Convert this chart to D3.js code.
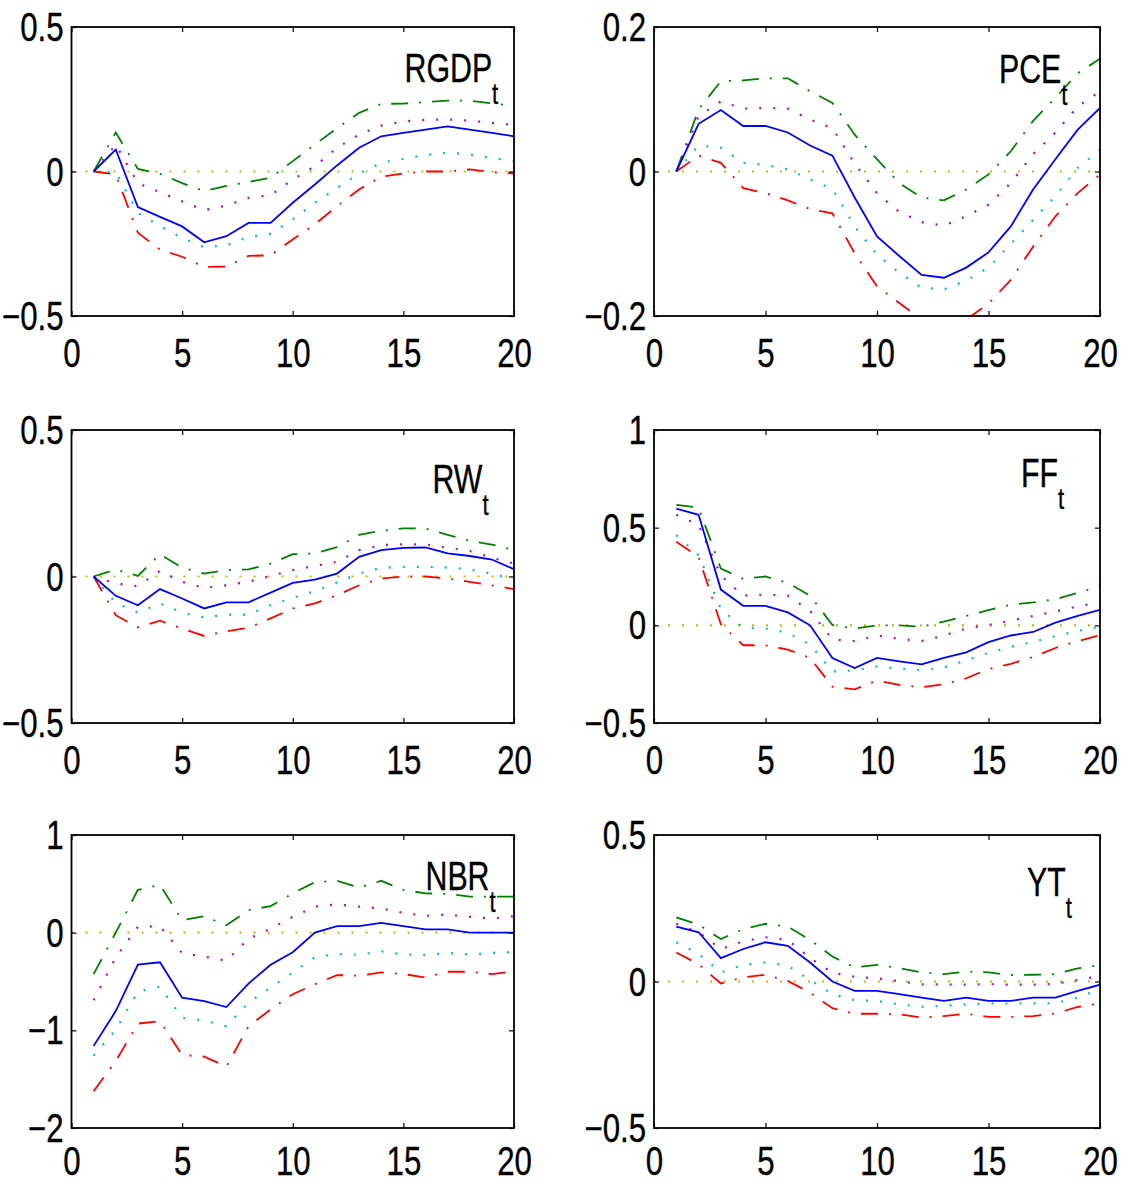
<!DOCTYPE html>
<html>
<head>
<meta charset="utf-8">
<script src="https://cdn.jsdelivr.net/npm/d3@7/dist/d3.min.js"></script>
<style>
body { margin: 0; background: #fff; }
text { font-family: "Liberation Sans", Arial, Helvetica, sans-serif; fill: #000; stroke: #000; stroke-width: 0.35px; }
</style>
</head>
<body>
<div id="chart"></div>
<script>
var svgWidth = 1122;
var svgHeight = 1183;

// horizons and x ticks
var horizon = [1, 2, 3, 4, 5, 6, 7, 8, 9, 10, 11, 12, 13, 14, 15, 16, 17, 18, 19, 20];
var xTicks = [0, 5, 10, 15, 20];

// RGDP
var rgdpMid  = [0, 0.076, -0.123, -0.157, -0.19, -0.245, -0.224, -0.178, -0.178, -0.108, -0.045, 0.021, 0.082, 0.122, 0.134, 0.145, 0.156, 0.145, 0.134, 0.122];
var rgdpHi90 = [0, 0.135, 0.009, -0.008, -0.04, -0.068, -0.05, -0.036, -0.022, 0.036, 0.093, 0.15, 0.203, 0.234, 0.235, 0.24, 0.245, 0.245, 0.236, 0.226];
var rgdpHi68 = [0, 0.093, -0.04, -0.072, -0.103, -0.134, -0.118, -0.091, -0.082, -0.028, 0.018, 0.082, 0.128, 0.159, 0.173, 0.179, 0.18, 0.176, 0.168, 0.161];
var rgdpLo68 = [0, -0.002, -0.143, -0.189, -0.23, -0.262, -0.256, -0.226, -0.215, -0.166, -0.108, -0.057, -0.007, 0.03, 0.044, 0.057, 0.065, 0.059, 0.047, 0.036];
var rgdpLo90 = [0, -0.01, -0.212, -0.27, -0.295, -0.33, -0.329, -0.292, -0.29, -0.235, -0.183, -0.12, -0.062, -0.018, -0.007, 0, 0, 0.007, -0.002, -0.007];

// PCE
var pceMid  = [0, 0.066, 0.085, 0.063, 0.063, 0.054, 0.036, 0.022, -0.036, -0.09, -0.117, -0.143, -0.147, -0.133, -0.112, -0.076, -0.025, 0.017, 0.058, 0.088];
var pceHi90 = [0, 0.086, 0.125, 0.126, 0.129, 0.129, 0.111, 0.095, 0.051, 0.017, -0.016, -0.036, -0.04, -0.025, -0.004, 0.028, 0.07, 0.102, 0.136, 0.156];
var pceHi68 = [0, 0.077, 0.097, 0.087, 0.088, 0.087, 0.072, 0.06, 0.011, -0.03, -0.056, -0.07, -0.075, -0.062, -0.046, -0.016, 0.024, 0.054, 0.09, 0.111];
var pceLo68 = [0, 0.036, 0.033, 0.012, 0.009, 0.003, -0.011, -0.024, -0.076, -0.115, -0.14, -0.161, -0.163, -0.151, -0.133, -0.1, -0.067, -0.034, 0.005, 0.03];
var pceLo90 = [0, 0.022, 0.012, -0.023, -0.03, -0.04, -0.052, -0.058, -0.113, -0.159, -0.182, -0.205, -0.217, -0.205, -0.183, -0.15, -0.104, -0.062, -0.03, -0.004];

// RW
var rwMid  = [0, -0.066, -0.098, -0.043, -0.075, -0.109, -0.088, -0.088, -0.055, -0.022, -0.011, 0.01, 0.067, 0.09, 0.098, 0.099, 0.079, 0.07, 0.058, 0.025];
var rwHi90 = [0, 0.024, 0.002, 0.076, 0.03, 0.01, 0.022, 0.024, 0.044, 0.076, 0.079, 0.1, 0.142, 0.156, 0.164, 0.164, 0.142, 0.122, 0.109, 0.09];
var rwHi68 = [0, -0.024, -0.033, 0.019, -0.018, -0.039, -0.03, -0.018, 0.002, 0.022, 0.036, 0.05, 0.09, 0.107, 0.11, 0.109, 0.098, 0.087, 0.064, 0.044];
var rwLo68 = [0, -0.09, -0.123, -0.092, -0.123, -0.14, -0.13, -0.13, -0.098, -0.073, -0.05, -0.02, 0.01, 0.03, 0.033, 0.033, 0.031, 0.024, 0.01, -0.01];
var rwLo90 = [0, -0.132, -0.174, -0.151, -0.178, -0.203, -0.187, -0.175, -0.143, -0.109, -0.092, -0.064, -0.03, -0.007, 0, 0, -0.007, -0.018, -0.03, -0.043];

// FF
var ffMid  = [0.597, 0.566, 0.183, 0.1, 0.1, 0.066, 0, -0.167, -0.219, -0.167, -0.184, -0.2, -0.167, -0.138, -0.086, -0.052, -0.034, 0.014, 0.048, 0.079];
var ffHi90 = [0.617, 0.603, 0.29, 0.238, 0.25, 0.217, 0.152, 0.002, -0.017, 0, 0, -0.007, 0.019, 0.048, 0.078, 0.105, 0.117, 0.134, 0.166, 0.2];
var ffHi68 = [0.566, 0.514, 0.255, 0.152, 0.157, 0.152, 0.074, -0.072, -0.081, -0.052, -0.069, -0.081, -0.052, -0.016, 0.002, 0.024, 0.048, 0.071, 0.097, 0.117];
var ffLo68 = [0.462, 0.359, 0.083, -0.012, -0.016, -0.038, -0.098, -0.236, -0.231, -0.21, -0.222, -0.229, -0.216, -0.179, -0.141, -0.11, -0.084, -0.055, -0.029, -0.007];
var ffLo90 = [0.428, 0.35, 0.005, -0.102, -0.102, -0.124, -0.167, -0.314, -0.328, -0.283, -0.305, -0.317, -0.302, -0.271, -0.224, -0.197, -0.162, -0.116, -0.081, -0.05];

// NBR
var nbrMid  = [-1.159, -0.803, -0.328, -0.303, -0.666, -0.7, -0.762, -0.521, -0.328, -0.2, 0, 0.066, 0.066, 0.1, 0.066, 0.034, 0.034, 0, 0, 0];
var nbrHi90 = [-0.424, 0, 0.438, 0.49, 0.128, 0.169, 0.076, 0.231, 0.272, 0.403, 0.517, 0.531, 0.462, 0.531, 0.438, 0.403, 0.397, 0.369, 0.369, 0.369];
var nbrHi68 = [-0.693, -0.252, 0.059, 0.066, -0.21, -0.245, -0.286, -0.062, 0.041, 0.162, 0.266, 0.29, 0.266, 0.248, 0.203, 0.172, 0.186, 0.162, 0.145, 0.169];
var nbrLo68 = [-1.259, -0.993, -0.603, -0.555, -0.872, -0.9, -0.959, -0.717, -0.562, -0.407, -0.252, -0.217, -0.228, -0.19, -0.224, -0.228, -0.207, -0.224, -0.207, -0.2];
var nbrLo90 = [-1.624, -1.314, -0.931, -0.907, -1.252, -1.269, -1.372, -0.959, -0.786, -0.631, -0.528, -0.434, -0.441, -0.407, -0.424, -0.459, -0.4, -0.4, -0.424, -0.397];

// YT
var ytMid  = [0.187, 0.168, 0.08, 0.111, 0.134, 0.122, 0.065, 0, -0.032, -0.032, -0.043, -0.055, -0.066, -0.055, -0.066, -0.066, -0.055, -0.055, -0.032, -0.011];
var ytHi90 = [0.219, 0.194, 0.145, 0.179, 0.197, 0.187, 0.142, 0.085, 0.048, 0.057, 0.046, 0.031, 0.025, 0.034, 0.031, 0.022, 0.023, 0.025, 0.045, 0.056];
var ytHi68 = [0.197, 0.168, 0.111, 0.137, 0.151, 0.142, 0.08, 0.03, 0.016, 0.011, 0.001, -0.01, -0.01, -0.011, -0.009, -0.011, -0.011, -0.008, 0.005, 0.019];
var ytLo68 = [0.134, 0.094, 0.031, 0.057, 0.065, 0.054, 0.005, -0.043, -0.064, -0.066, -0.078, -0.086, -0.083, -0.078, -0.075, -0.075, -0.075, -0.074, -0.055, -0.026];
var ytLo90 = [0.099, 0.059, -0.007, 0.014, 0.023, 0.002, -0.038, -0.091, -0.11, -0.11, -0.112, -0.123, -0.118, -0.11, -0.121, -0.121, -0.118, -0.109, -0.087, -0.075];

// panel titles and y axes
var titles = ["RGDP", "PCE", "RW", "FF", "NBR", "YT"];
var yDomains = [[-0.5, 0.5], [-0.2, 0.2], [-0.5, 0.5], [-0.5, 1], [-2, 1], [-0.5, 0.5]];
var yTicks = [[-0.5, 0, 0.5], [-0.2, 0, 0.2], [-0.5, 0, 0.5], [-0.5, 0, 0.5, 1], [-2, -1, 0, 1], [-0.5, 0, 0.5]];

// layout (pixels)
var colLeft = [71.5, 654];
var colWidth = [442.5, 446];
var rowTop = [27, 430, 835];
var rowHeight = [289, 293, 293];
var xLabelPad = [23, 23, 19];
var titlePos = [[333, 55], [345, 56], [361, 63], [367, 57], [354, 55], [373, 61]];

var panels = [
    {mid: rgdpMid, hi90: rgdpHi90, hi68: rgdpHi68, lo68: rgdpLo68, lo90: rgdpLo90},
    {mid: pceMid, hi90: pceHi90, hi68: pceHi68, lo68: pceLo68, lo90: pceLo90},
    {mid: rwMid, hi90: rwHi90, hi68: rwHi68, lo68: rwLo68, lo90: rwLo90},
    {mid: ffMid, hi90: ffHi90, hi68: ffHi68, lo68: ffLo68, lo90: ffLo90},
    {mid: nbrMid, hi90: nbrHi90, hi68: nbrHi68, lo68: nbrLo68, lo90: nbrLo90},
    {mid: ytMid, hi90: ytHi90, hi68: ytHi68, lo68: ytLo68, lo90: ytLo90}
];

// line styles, matlab-ish
var styles = [
    {key: "hi90", color: "#008000", dash: "17,11,2,11", width: 1.8},
    {key: "lo90", color: "#ff0000", dash: "17,11,2,11", width: 1.8},
    {key: "hi68", color: "#bf00bf", dash: "2,12", width: 2.2},
    {key: "lo68", color: "#00bfbf", dash: "2,12", width: 2.2},
    {key: "mid",  color: "#0000ff", dash: null, width: 1.8}
];

var numScale = 0.78;
var titleScale = 0.74;

function fmt(d) {
    return d < 0 ? "\u2212" + Math.abs(d) : String(d);
}

var svg = d3.select("#chart")
    .append("svg")
    .attr("width", svgWidth)
    .attr("height", svgHeight);

panels.forEach(function(p, i) {
    var col = i % 2;
    var row = Math.floor(i / 2);
    var width = colWidth[col];
    var height = rowHeight[row];

    var g = svg.append("g")
        .attr("transform", `translate(${colLeft[col]},${rowTop[row]})`);

    var x = d3.scaleLinear().domain([0, 20]).range([0, width]);
    var y = d3.scaleLinear().domain(yDomains[i]).range([height, 0]);

    g.append("clipPath")
        .attr("id", "clip" + i)
        .append("rect")
        .attr("width", width)
        .attr("height", height);

    var plot = g.append("g").attr("clip-path", `url(#clip${i})`);

    // zero line
    plot.append("path")
        .datum([0, 20])
        .attr("d", d3.line().x(d => x(d)).y(y(0)))
        .attr("fill", "none")
        .attr("stroke", "#bfbf00")
        .attr("stroke-width", 2.2)
        .attr("stroke-dasharray", "2,12");

    var line = d3.line()
        .x((d, j) => x(horizon[j]))
        .y(d => y(d));

    styles.forEach(function(s) {
        plot.append("path")
            .datum(p[s.key])
            .attr("d", line)
            .attr("fill", "none")
            .attr("stroke", s.color)
            .attr("stroke-width", s.width)
            .attr("stroke-dasharray", s.dash);
    });

    // ticks on all four sides, pointing in
    var bottomAxis = g.append("g")
        .attr("transform", `translate(0,${height})`)
        .call(d3.axisBottom(x).tickValues(xTicks).tickSize(-5).tickSizeOuter(0).tickPadding(xLabelPad[row]).tickFormat(fmt));
    g.append("g")
        .call(d3.axisTop(x).tickValues(xTicks).tickSize(-5).tickSizeOuter(0).tickFormat(""));
    var leftAxis = g.append("g")
        .call(d3.axisLeft(y).tickValues(yTicks[i]).tickSize(-5).tickSizeOuter(0).tickFormat(fmt));
    g.append("g")
        .attr("transform", `translate(${width},0)`)
        .call(d3.axisRight(y).tickValues(yTicks[i]).tickSize(-5).tickSizeOuter(0).tickFormat(""));

    g.selectAll(".domain").remove();
    g.selectAll(".tick line").attr("stroke", "#000").attr("stroke-width", 1.2);
    g.selectAll("g").attr("font-family", null).attr("font-size", null);

    bottomAxis.selectAll("text")
        .attr("font-size", "40px")
        .attr("fill", "#000")
        .attr("transform", `scale(${numScale},1)`);

    leftAxis.selectAll("text")
        .attr("font-size", "40px")
        .attr("fill", "#000")
        .attr("x", null)
        .attr("dy", "0.34em")
        .attr("transform", `translate(-8,0) scale(${numScale},1)`);

    // axes box
    g.append("rect")
        .attr("width", width)
        .attr("height", height)
        .attr("fill", "none")
        .attr("stroke", "#000")
        .attr("stroke-width", 1.8);

    // panel title with subscript t
    var title = g.append("text")
        .attr("transform", `translate(${titlePos[i][0]},${titlePos[i][1]}) scale(${titleScale},1)`)
        .attr("font-size", "41px");
    title.append("tspan").text(titles[i]);
    title.append("tspan")
        .attr("font-size", "30px")
        .attr("dy", 22)
        .text("t");
});
</script>
</body>
</html>
